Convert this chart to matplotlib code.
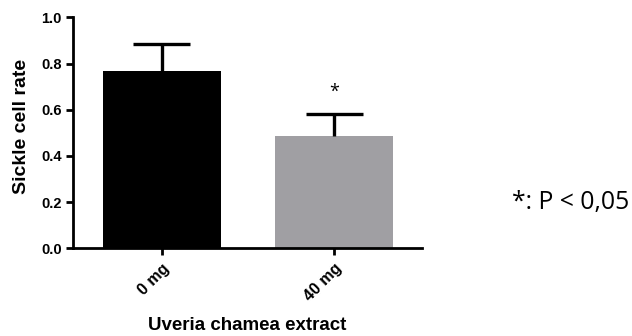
import matplotlib
matplotlib.use("Agg")
import matplotlib.pyplot as plt
import numpy as np

categories = ["0 mg", "40 mg"]
means = [0.767, 0.486]
errors = [0.117, 0.097]
colors = ["#000000", "#a09fa3"]
yticks = [0.0, 0.2, 0.4, 0.6, 0.8, 1.0]
star_label = "*"
note_text = "*: P < 0,05"

fig = plt.figure(figsize=(6.32, 3.36), dpi=100)
ax = fig.add_axes([0.115, 0.261, 0.552, 0.6875])

x = np.arange(len(categories))
bar_w = 0.684
ax.bar(x, means, width=bar_w, color=colors, edgecolor="none", zorder=2)
tops = np.array(means) + np.array(errors)
cap_w = bar_w * 0.48
ax.vlines(x, means, tops, colors="black", linewidth=2.4, zorder=3)
ax.hlines(tops, x - cap_w / 2, x + cap_w / 2, colors="black", linewidth=2.4, zorder=3)

ax.text(x[1], tops[1] + 0.055, star_label, ha="center", va="bottom",
        fontsize=13, family="Open Sans")

ax.set_xlim(-0.516, 1.506)
ax.set_ylim(0, 1.0)
ax.set_yticks(yticks)
ax.set_yticklabels([f"{v:.1f}" for v in yticks])
ax.set_xticks(x)
ax.set_xticklabels(categories, rotation=45, ha="right", rotation_mode="anchor")

for s in ["top", "right"]:
    ax.spines[s].set_visible(False)
for s in ["left", "bottom"]:
    ax.spines[s].set_linewidth(2)
ax.tick_params(axis="both", width=2, length=5)
ax.tick_params(axis="y", labelsize=10.5, pad=3)
ax.tick_params(axis="x", labelsize=11.5, pad=4)
for lbl in ax.get_xticklabels() + ax.get_yticklabels():
    lbl.set_fontfamily("Liberation Sans")
    lbl.set_fontweight("bold")

ax.set_ylabel("Sickle cell rate", fontsize=14, fontweight="bold",
              family="Liberation Sans")
ax.yaxis.set_label_coords(-(72.7 - 21) / 349, (248.3 - 126) / 231,
                          transform=ax.transAxes)
ax.yaxis.label.set_va("center")
ax.set_xlabel("Uveria chamea extract", fontsize=13.5, fontweight="bold",
              family="Liberation Sans")
ax.xaxis.set_label_coords(0.5, -(325 - 248.3) / 231, transform=ax.transAxes)
ax.xaxis.label.set_va("center")

fig.text(0.81, 1 - 203/336, note_text, fontsize=17.8, family="Open Sans",
         ha="left", va="center")

fig.savefig("out.png", dpi=100)
